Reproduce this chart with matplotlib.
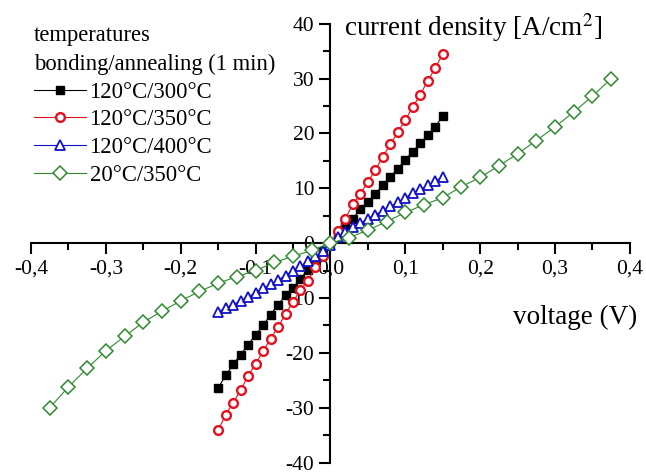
import matplotlib

matplotlib.use("Agg")
import matplotlib.pyplot as plt
from matplotlib.ticker import FuncFormatter, MultipleLocator
import numpy as np

plt.rcParams["font.family"] = ["Liberation Serif", "DejaVu Serif"]

# voltage steps (V)
v_narrow = np.round(np.arange(-0.15, 0.1501, 0.01), 3)
v_wide = np.round(np.arange(-0.375, 0.3751, 0.025), 3)

# current density (A/cm^2)
j_120_300 = [-26.4, -24.1, -22.1, -20.3, -18.5, -16.7, -15.0, -13.0, -11.2, -9.5,
             -8.1, -6.5, -4.8, -3.2, -1.5, 0.0, 1.5, 3.3, 4.5, 6.2,
             7.5, 9.0, 10.6, 12.1, 13.6, 15.2, 16.7, 18.2, 19.7, 21.2, 23.2]
j_120_350 = [-34.1, -31.3, -29.1, -26.8, -24.2, -22.0, -19.7, -17.4, -15.3, -12.9,
             -10.7, -8.5, -6.8, -4.4, -2.4, 0.0, 2.2, 4.5, 7.1, 9.0,
             11.2, 13.3, 15.8, 18.0, 20.2, 22.5, 24.8, 27.1, 29.6, 31.9, 34.5]
j_120_400 = [-12.5, -11.8, -11.2, -10.5, -9.8, -9.0, -8.2, -7.5, -6.7, -5.9,
             -5.0, -4.2, -3.3, -2.4, -1.5, -0.4, 1.1, 2.1, 2.9, 3.6,
             4.5, 5.2, 5.9, 6.7, 7.45, 8.3, 9.1, 9.8, 10.6, 11.3, 12.1]
j_20_350 = [-30.0, -26.2, -22.8, -19.6, -17.0, -14.4, -12.4, -10.5, -8.8, -7.3,
            -6.1, -5.0, -3.5, -2.4, -1.3, 0.0, 1.0, 2.4, 3.9, 5.6,
            7.0, 8.3, 10.3, 12.0, 14.1, 16.3, 18.7, 21.2, 23.9, 26.8, 30.0]

labels = ["120°C/300°C", "120°C/350°C", "120°C/400°C", "20°C/350°C"]

fig = plt.figure(figsize=(6.46, 4.75), dpi=100)
ax = fig.add_axes([0.048, 0.026, 0.927, 0.924])

ax.plot(v_narrow, j_120_300, color="black", lw=0.8, marker="s", ms=6.3,
        mfc="black", mec="black", label=labels[0], zorder=5)
ax.plot(v_narrow, j_120_350, color="#e3101e", lw=0.8, marker="o", ms=6.3,
        mfc="white", mec="#e3101e", mew=1.7, label=labels[1], zorder=5)
ax.plot(v_narrow, j_120_400, color="#1010c8", lw=0.8, marker="^", ms=7,
        mfc="white", mec="#1010c8", mew=1.3, label=labels[2], zorder=5)
ax.plot(v_wide, j_20_350, color="#2f8a2f", lw=0.8, marker="D", ms=7,
        mfc="white", mec="#2f8a2f", mew=1.1, label=labels[3], zorder=5)

ax.set_xlim(-0.4, 0.4)
ax.set_ylim(-40, 40)

for side in ["top", "right"]:
    ax.spines[side].set_visible(False)
ax.spines["left"].set_position(("data", 0))
ax.spines["bottom"].set_position(("data", 0))
ax.spines["left"].set_linewidth(1.5)
ax.spines["bottom"].set_linewidth(1.5)

ax.xaxis.set_major_locator(MultipleLocator(0.1))
ax.xaxis.set_minor_locator(MultipleLocator(0.05))
ax.yaxis.set_major_locator(MultipleLocator(10))
ax.yaxis.set_minor_locator(MultipleLocator(5))
ax.xaxis.set_major_formatter(FuncFormatter(lambda x, p: f"{x:.1f}".replace(".", ",").replace("-0,0", "0,0")))
ax.yaxis.set_major_formatter(FuncFormatter(lambda y, p: f"{y:.0f}"))
ax.tick_params(which="major", direction="out", length=8, width=1.5, labelsize=15.5)
ax.tick_params(which="minor", direction="out", length=5, width=1.5)

ax.text(0.018, 39.3, "current density [A/cm$^2$]", fontsize=19.5, va="center", ha="left",
        math_fontfamily="stix")
ax.text(0.41, -13.6, "voltage (V)", fontsize=19.5, va="center", ha="right")

leg = ax.legend(title="temperatures\nbonding/annealing (1 min)", loc="upper left",
                bbox_to_anchor=(-0.01, 1.017), frameon=False, fontsize=16.3,
                title_fontsize=16.3, alignment="left", handlelength=2.3,
                handletextpad=0.15, labelspacing=0.3, borderaxespad=0)
leg.get_title().set_linespacing(1.45)

fig.savefig("out.png", dpi=100)
